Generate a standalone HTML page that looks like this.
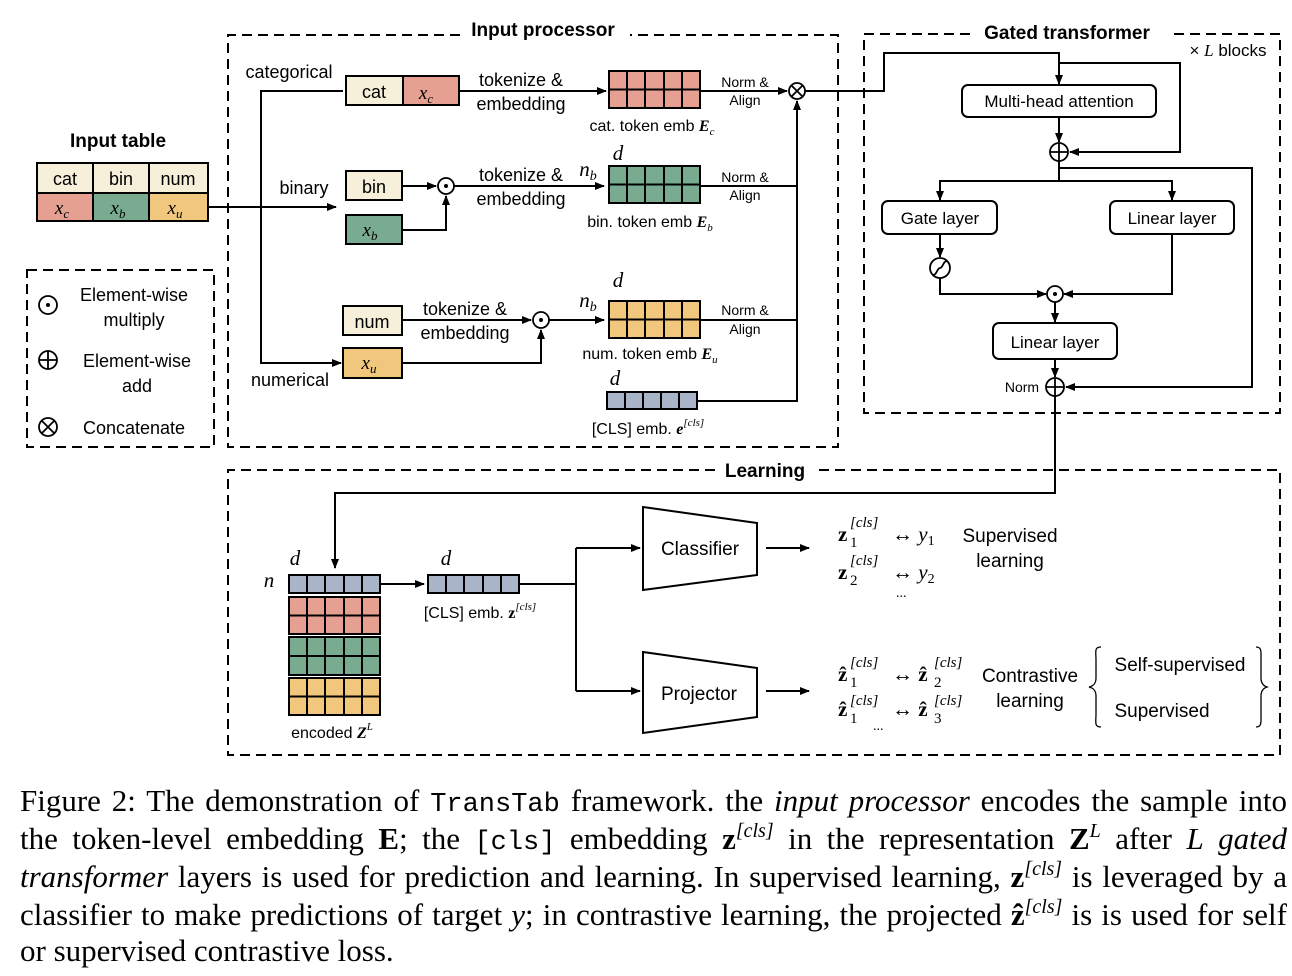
<!DOCTYPE html>
<html><head><meta charset="utf-8"><style>
body{margin:0;background:#fff;width:1292px;height:976px;overflow:hidden;position:relative}
svg{position:absolute;left:0;top:0}
.cap{position:absolute;left:20px;width:1267px;font-family:"Liberation Serif",serif;font-size:31px;line-height:38px;white-space:nowrap;text-align:justify;text-align-last:justify;color:#000}
.cap sup{font-size:20px;line-height:0;vertical-align:0;position:relative;top:-12px}
.mono{font-family:"Liberation Mono",monospace;font-size:27px}
</style></head><body>
<svg width="1292" height="976" viewBox="0 0 1292 976" font-family="Liberation Sans, sans-serif" font-size="18">
<defs><marker id="a" markerWidth="10" markerHeight="8" refX="9" refY="4" orient="auto" markerUnits="userSpaceOnUse"><path d="M0,0 L10,4 L0,8 z" fill="#000"/></marker></defs>
<g fill="none" stroke="#000" stroke-width="2" stroke-dasharray="10,6">
<path d="M460,35 H228 V447 H838 V35 H630"/>
<path d="M970,34 H864 V413 H1280 V34 H1170"/>
<path d="M715,470 H228 V755 H1280 V470 H818"/>
<rect x="27" y="270" width="187" height="177"/>
</g>
<g font-weight="bold" font-size="19" text-anchor="middle">
<text x="543" y="36">Input processor</text><text x="1067" y="39">Gated transformer</text><text x="765" y="477">Learning</text><text x="118" y="147">Input table</text>
</g>
<g stroke="#000" stroke-width="2">
<rect x="37" y="163" width="56" height="30" fill="#f6efd9"/><rect x="93" y="163" width="56" height="30" fill="#f6efd9"/><rect x="149" y="163" width="59" height="30" fill="#f6efd9"/>
<rect x="37" y="193" width="56" height="28" fill="#e6a092"/><rect x="93" y="193" width="56" height="28" fill="#78ab90"/><rect x="149" y="193" width="59" height="28" fill="#f1c77d"/>
</g>
<g text-anchor="middle"><text x="65" y="185">cat</text><text x="121" y="185">bin</text><text x="178" y="185">num</text></g>
<g font-family="Liberation Serif, serif" font-style="italic" font-size="19" text-anchor="middle"><text x="62" y="214">x<tspan font-size="13" dy="4">c</tspan></text><text x="118" y="214">x<tspan font-size="13" dy="4">b</tspan></text><text x="175" y="214">x<tspan font-size="13" dy="4">u</tspan></text></g>
<g fill="none" stroke="#000" stroke-width="2">
<path d="M208,207 H336" marker-end="url(#a)"/>
<path d="M343,91 H261 V363 H341" marker-end="url(#a)"/>
<path d="M459,91 H606" marker-end="url(#a)"/>
<path d="M700,91 H787" marker-end="url(#a)"/>
<path d="M402,186 H436" marker-end="url(#a)"/>
<path d="M402,230 H446 V196" marker-end="url(#a)"/>
<path d="M454,186 H604" marker-end="url(#a)"/>
<path d="M402,320 H531" marker-end="url(#a)"/>
<path d="M402,363 H541 V330" marker-end="url(#a)"/>
<path d="M549,320 H604" marker-end="url(#a)"/>
<path d="M700,186 H797"/><path d="M700,320 H797"/>
<path d="M697,401 H797 V101" marker-end="url(#a)"/>
<path d="M805,91 H884 V53 H1059 V84" marker-end="url(#a)"/>
<path d="M1059,63 H1180 V152 H1070" marker-end="url(#a)"/>
<path d="M1059,117 V142" marker-end="url(#a)"/>
<path d="M1059,161 V181"/><path d="M940,200 V181 H1172 V200" marker-end="url(#a)"/><path d="M940,181 V200" marker-end="url(#a)"/>
<path d="M1059,168 H1252 V387 H1066" marker-end="url(#a)"/>
<path d="M940,234 V257" marker-end="url(#a)"/>
<path d="M940,278 V294 H1046" marker-end="url(#a)"/>
<path d="M1172,234 V294 H1064" marker-end="url(#a)"/>
<path d="M1055,302 V322" marker-end="url(#a)"/>
<path d="M1055,359 V377" marker-end="url(#a)"/>
<path d="M1055,396 V493 H335 V568" marker-end="url(#a)"/>
<path d="M380,584 H424" marker-end="url(#a)"/>
<path d="M519,584 H576"/><path d="M576,548 V691"/>
<path d="M576,548 H640" marker-end="url(#a)"/><path d="M576,691 H640" marker-end="url(#a)"/>
<path d="M766,548 H809" marker-end="url(#a)"/><path d="M766,691 H809" marker-end="url(#a)"/>
</g>
<g stroke="#000" stroke-width="2">
<rect x="346" y="76" width="57" height="29" fill="#f6efd9"/><rect x="403" y="76" width="56" height="29" fill="#e6a092"/>
<rect x="346" y="171" width="56" height="29" fill="#f6efd9"/><rect x="346" y="215" width="56" height="29" fill="#78ab90"/>
<rect x="343" y="306" width="59" height="29" fill="#f6efd9"/><rect x="343" y="348" width="59" height="30" fill="#f1c77d"/>
</g>
<text x="374" y="98" text-anchor="middle">cat</text><text x="374" y="193" text-anchor="middle">bin</text><text x="372" y="328" text-anchor="middle">num</text>
<g font-family="Liberation Serif, serif" font-style="italic" font-size="19" text-anchor="middle"><text x="426" y="99">x<tspan font-size="13" dy="4">c</tspan></text><text x="370" y="236">x<tspan font-size="13" dy="4">b</tspan></text><text x="369" y="369">x<tspan font-size="13" dy="4">u</tspan></text></g>
<g stroke="#000" stroke-width="2">
<rect x="609" y="71" width="91" height="37" fill="#e6a092"/><path d="M627,71V108M645,71V108M664,71V108M682,71V108M609,89.5H700"/>
<rect x="609" y="166" width="91" height="37" fill="#78ab90"/><path d="M627,166V203M645,166V203M664,166V203M682,166V203M609,184.5H700"/>
<rect x="609" y="301" width="91" height="37" fill="#f1c77d"/><path d="M627,301V338M645,301V338M664,301V338M682,301V338M609,319.5H700"/>
<rect x="607" y="392" width="90" height="17" fill="#a9b4c8"/><path d="M625,392V409M643,392V409M661,392V409M679,392V409"/>
<rect x="289" y="575" width="91" height="18" fill="#a9b4c8"/><path d="M307,575V593M325,575V593M344,575V593M362,575V593"/>
<rect x="289" y="597" width="91" height="37" fill="#e6a092"/><path d="M307,597V634M325,597V634M344,597V634M362,597V634M289,615.5H380"/>
<rect x="289" y="637" width="91" height="38" fill="#78ab90"/><path d="M307,637V675M325,637V675M344,637V675M362,637V675M289,656H380"/>
<rect x="289" y="678" width="91" height="37" fill="#f1c77d"/><path d="M307,678V715M325,678V715M344,678V715M362,678V715M289,696.5H380"/>
<rect x="428" y="575" width="91" height="18" fill="#a9b4c8"/><path d="M446,575V593M464,575V593M483,575V593M501,575V593"/>
</g>
<g text-anchor="middle">
<text x="289" y="78">categorical</text><text x="304" y="194">binary</text><text x="290" y="386">numerical</text>
<text x="521" y="86">tokenize &amp;</text><text x="521" y="110">embedding</text>
<text x="521" y="181">tokenize &amp;</text><text x="521" y="205">embedding</text>
<text x="465" y="315">tokenize &amp;</text><text x="465" y="339">embedding</text>
</g>
<g font-size="14" text-anchor="middle"><text x="745" y="87">Norm &amp;</text><text x="745" y="105">Align</text><text x="745" y="182">Norm &amp;</text><text x="745" y="200">Align</text><text x="745" y="315">Norm &amp;</text><text x="745" y="334">Align</text></g>
<g font-size="16" text-anchor="middle">
<text x="652" y="131">cat. token emb <tspan font-family="Liberation Serif, serif" font-style="italic" font-weight="bold">E</tspan><tspan font-family="Liberation Serif, serif" font-style="italic" font-size="11" dy="4">c</tspan></text>
<text x="650" y="227">bin. token emb <tspan font-family="Liberation Serif, serif" font-style="italic" font-weight="bold">E</tspan><tspan font-family="Liberation Serif, serif" font-style="italic" font-size="11" dy="4">b</tspan></text>
<text x="650" y="359">num. token emb <tspan font-family="Liberation Serif, serif" font-style="italic" font-weight="bold">E</tspan><tspan font-family="Liberation Serif, serif" font-style="italic" font-size="11" dy="4">u</tspan></text>
<text x="648" y="434">[CLS] emb. <tspan font-family="Liberation Serif, serif" font-style="italic" font-weight="bold">e</tspan><tspan font-family="Liberation Serif, serif" font-style="italic" font-size="11" dy="-8">[cls]</tspan></text>
<text x="480" y="618">[CLS] emb. <tspan font-family="Liberation Serif, serif" font-weight="bold">z</tspan><tspan font-family="Liberation Serif, serif" font-style="italic" font-size="11" dy="-8">[cls]</tspan></text>
<text x="332" y="738">encoded <tspan font-family="Liberation Serif, serif" font-weight="bold" font-style="italic">Z</tspan><tspan font-family="Liberation Serif, serif" font-style="italic" font-size="11" dy="-8">L</tspan></text>
</g>
<g font-family="Liberation Serif, serif" font-style="italic" font-size="21" text-anchor="middle">
<text x="618" y="160">d</text><text x="618" y="287">d</text><text x="615" y="385">d</text><text x="295" y="565">d</text><text x="446" y="565">d</text><text x="269" y="587">n</text>
<text x="588" y="176">n<tspan font-size="14" dy="4">b</tspan></text><text x="588" y="307">n<tspan font-size="14" dy="4">b</tspan></text>
</g>
<g fill="#fff" stroke="#000" stroke-width="1.8">
<circle cx="797" cy="91" r="8"/><circle cx="446" cy="186" r="8"/><circle cx="541" cy="320" r="8"/>
<circle cx="1059" cy="152" r="9"/><circle cx="1055" cy="294" r="8"/><circle cx="1055" cy="387" r="9"/><circle cx="940" cy="268" r="10"/>
<circle cx="48" cy="305" r="9"/><circle cx="48" cy="360" r="9"/><circle cx="48" cy="427" r="9"/>
</g>
<g fill="none" stroke="#000" stroke-width="1.8">
<path d="M791,85 L803,97 M803,85 L791,97"/><path d="M1050,152H1068M1059,143V161"/><path d="M1046,387H1064M1055,378V396"/>
<path d="M39,360H57M48,351V369"/><path d="M42,421L54,433M54,421L42,433"/>
<path d="M933,275 C937,275 937,268 940,268 C943,268 943,261 947,261"/>
</g>
<g fill="#000"><circle cx="446" cy="186" r="2"/><circle cx="541" cy="320" r="2"/><circle cx="1055" cy="294" r="2"/><circle cx="48" cy="305" r="2"/></g>
<g fill="#fff" stroke="#000" stroke-width="2">
<rect x="962" y="85" width="194" height="32" rx="6"/><rect x="882" y="201" width="115" height="33" rx="6"/><rect x="1110" y="201" width="124" height="33" rx="6"/><rect x="993" y="323" width="124" height="36" rx="6"/>
<path d="M643,507 L757,523 L757,575 L643,590 Z"/><path d="M643,652 L757,668 L757,717 L643,733 Z"/>
</g>
<g font-size="17" text-anchor="middle">
<text x="1059" y="107">Multi-head attention</text><text x="940" y="224">Gate layer</text><text x="1172" y="224">Linear layer</text><text x="1055" y="348">Linear layer</text>
<text x="1228" y="56">× <tspan font-family="Liberation Serif, serif" font-style="italic">L</tspan> blocks</text>
</g>
<text x="1022" y="392" font-size="14" text-anchor="middle">Norm</text>
<g font-size="19" text-anchor="middle"><text x="700" y="555">Classifier</text><text x="699" y="700">Projector</text></g>
<g text-anchor="middle" font-size="18"><text x="134" y="301">Element-wise</text><text x="134" y="326">multiply</text><text x="137" y="367">Element-wise</text><text x="137" y="392">add</text><text x="134" y="434">Concatenate</text></g>
<g font-family="Liberation Serif, serif" font-size="21">
<text x="838" y="541" font-weight="bold">z</text><text x="850" y="527" font-size="15" font-style="italic">[cls]</text><text x="850" y="547" font-size="15">1</text><text x="892" y="541">↔ <tspan font-style="italic">y</tspan><tspan font-size="14" dy="4">1</tspan></text>
<text x="838" y="579" font-weight="bold">z</text><text x="850" y="565" font-size="15" font-style="italic">[cls]</text><text x="850" y="585" font-size="15">2</text><text x="892" y="579">↔ <tspan font-style="italic">y</tspan><tspan font-size="14" dy="4">2</tspan></text>
<text x="896" y="597" font-size="14">...</text>
<text x="838" y="681" font-weight="bold">ẑ</text><text x="850" y="667" font-size="15" font-style="italic">[cls]</text><text x="850" y="687" font-size="15">1</text><text x="892" y="681">↔ <tspan font-weight="bold">ẑ</tspan></text><text x="934" y="667" font-size="15" font-style="italic">[cls]</text><text x="934" y="687" font-size="15">2</text>
<text x="838" y="716" font-weight="bold">ẑ</text><text x="850" y="705" font-size="15" font-style="italic">[cls]</text><text x="850" y="723" font-size="15">1</text><text x="892" y="716">↔ <tspan font-weight="bold">ẑ</tspan></text><text x="934" y="705" font-size="15" font-style="italic">[cls]</text><text x="934" y="723" font-size="15">3</text>
<text x="873" y="730" font-size="14">...</text>
</g>
<g text-anchor="middle" font-size="19"><text x="1010" y="542">Supervised</text><text x="1010" y="567">learning</text><text x="1030" y="682">Contrastive</text><text x="1030" y="707">learning</text><text x="1180" y="671">Self-supervised</text><text x="1162" y="717">Supervised</text></g>
<g fill="none" stroke="#000" stroke-width="1.3"><path d="M1101,647 C1094,647 1096,652 1096,660 L1096,678 C1096,684 1093,686 1089,687 C1093,688 1096,690 1096,696 L1096,714 C1096,722 1094,727 1101,727"/><path d="M1256,647 C1262,647 1261,652 1261,660 L1261,678 C1261,684 1264,686 1267,687 C1264,688 1261,690 1261,696 L1261,714 C1261,722 1262,727 1256,727"/></g>
</svg>
<div class="cap" style="top:782px">Figure 2: The demonstration of <span class="mono">TransTab</span> framework. the <i>input processor</i> encodes the sample into</div>
<div class="cap" style="top:820px">the token-level embedding <b>E</b>; the <span class="mono">[cls]</span> embedding <b>z</b><sup><i>[cls]</i></sup> in the representation <b>Z</b><sup><i>L</i></sup> after <i>L</i> <i>gated</i></div>
<div class="cap" style="top:858px"><i>transformer</i> layers is used for prediction and learning. In supervised learning, <b>z</b><sup><i>[cls]</i></sup> is leveraged by a</div>
<div class="cap" style="top:896px">classifier to make predictions of target <i>y</i>; in contrastive learning, the projected <b>ẑ</b><sup><i>[cls]</i></sup> is is used for self</div>
<div class="cap" style="top:932px;text-align-last:left">or supervised contrastive loss.</div>
</body></html>
